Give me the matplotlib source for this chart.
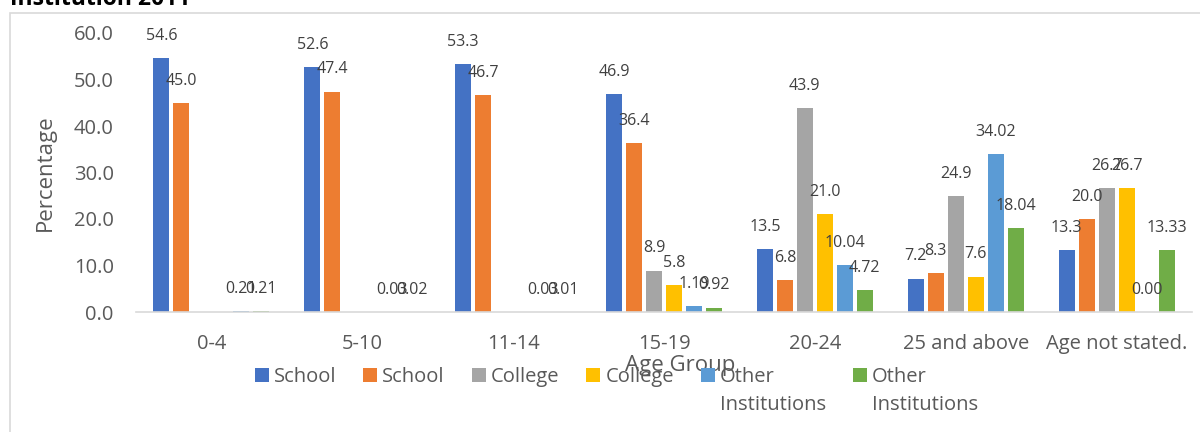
import matplotlib
matplotlib.use("Agg")
import matplotlib.pyplot as plt
import numpy as np
from matplotlib.patches import Rectangle

# ---- data -------------------------------------------------------------
age_groups = ["0-4", "5-10", "11-14", "15-19", "20-24", "25 and above", "Age not stated."]
series_names = ["School", "School", "College", "College",
                "Other\nInstitutions", "Other\nInstitutions"]
series_colors = ["#4472C4", "#ED7D31", "#A5A5A5", "#FFC000", "#5B9BD5", "#70AD47"]
nan = np.nan
school_a = [54.6, 52.6, 53.3, 46.9, 13.5, 7.2, 13.3]
school_b = [45.0, 47.4, 46.7, 36.4, 6.8, 8.3, 20.0]
college_a = [nan, nan, nan, 8.9, 43.9, 24.9, 26.7]
college_b = [nan, nan, nan, 5.8, 21.0, 7.6, 26.7]
other_a = [0.21, 0.03, 0.03, 1.19, 10.04, 34.02, 0.00]
other_b = [0.21, 0.02, 0.01, 0.92, 4.72, 18.04, 13.33]
series_values = [school_a, school_b, college_a, college_b, other_a, other_b]
label_formats = ["{:.1f}", "{:.1f}", "{:.1f}", "{:.1f}", "{:.2f}", "{:.2f}"]
y_ticks = [0, 10, 20, 30, 40, 50, 60]

title_text = "Institution 2011"
x_title = "Age Group"
y_title = "Percentage"

# ---- figure -----------------------------------------------------------
W, H = 1200, 432
FONT = "Open Sans"
plt.rcParams["font.family"] = [FONT, "DejaVu Sans"]
TEXT_GRAY = "#595959"
LABEL_GRAY = "#404040"

fig = plt.figure(figsize=(W / 100, H / 100), dpi=100)
fig.patch.set_facecolor("white")

# chart-area frame
fig.patches.append(Rectangle((10 / W, -0.2), 1.5, 1.2 - 13 / H, transform=fig.transFigure,
                             fill=False, edgecolor="#D9D9D9", linewidth=1.2, zorder=0))

ax = fig.add_axes([136 / W, 120 / H, 1056 / W, 279 / H])

n_series = len(series_values)
step = 20 / 151
bar_w = 16 / 151
x = np.arange(len(age_groups))

for i, (vals, color, fmt) in enumerate(zip(series_values, series_colors, label_formats)):
    offs = (i - (n_series - 1) / 2) * step
    vals = np.asarray(vals, dtype=float)
    ax.bar(x + offs, vals, width=bar_w, color=color, zorder=2)
    for xi, v in zip(x + offs, vals):
        if np.isnan(v):
            continue
        ax.annotate(fmt.format(v), xy=(xi, v), xytext=(0, 16), textcoords="offset points",
                    ha="center", va="center", fontsize=11.5, color=LABEL_GRAY, zorder=5)

ax.set_xlim(-0.5, len(age_groups) - 0.5)
ax.set_ylim(0, 60)
ax.set_yticks(y_ticks)
ax.set_yticklabels([f"{t:.1f}" for t in y_ticks])
ax.set_xticks(x)
ax.set_xticklabels(age_groups)
ax.tick_params(axis="both", length=0, labelsize=14.5, labelcolor=TEXT_GRAY)
ax.tick_params(axis="y", pad=16)
ax.tick_params(axis="x", pad=16)

for side in ("top", "right", "left"):
    ax.spines[side].set_visible(False)
ax.spines["bottom"].set_color("#D9D9D9")
ax.spines["bottom"].set_linewidth(1.2)

ax.set_xlabel(x_title, fontsize=16, color=TEXT_GRAY)
ax.xaxis.label.set_va("center")
ax.xaxis.set_label_coords((680 - 136) / 1056, (312 - 365) / 279)
ax.set_ylabel(y_title, fontsize=16, color=TEXT_GRAY)
ax.yaxis.label.set_va("center")
ax.yaxis.set_label_coords((45 - 136) / 1056, 0.5)

# title (partly above the top edge)
fig.text(10 / W, 1 - 5 / H, title_text, fontsize=16.5, fontweight="bold",
         ha="left", va="baseline", color="black")

# ---- legend laid out in a single row ---------------------------------
renderer = fig.canvas.get_renderer()
sq, gap_in, gap_out = 14, 5, 27
base1, line_gap = 382, 28
entries = []
for name in series_names:
    lines = name.split("\n")
    texts = [fig.text(0, 0, ln, fontsize=14.5, color=TEXT_GRAY, ha="left", va="baseline")
             for ln in lines]
    width = max(t.get_window_extent(renderer).width for t in texts)
    entries.append((texts, width))

total = sum(sq + gap_in + w for _, w in entries) + gap_out * (len(entries) - 1)
cx = 616.5 - total / 2
for (texts, width), color in zip(entries, series_colors):
    fig.patches.append(Rectangle((cx / W, 1 - base1 / H), sq / W, sq / H,
                                 transform=fig.transFigure, facecolor=color,
                                 edgecolor="none"))
    for k, t in enumerate(texts):
        t.set_position(((cx + sq + gap_in) / W, 1 - (base1 + k * line_gap) / H))
    cx += sq + gap_in + width + gap_out

fig.savefig("out.png", dpi=100, facecolor="white")
